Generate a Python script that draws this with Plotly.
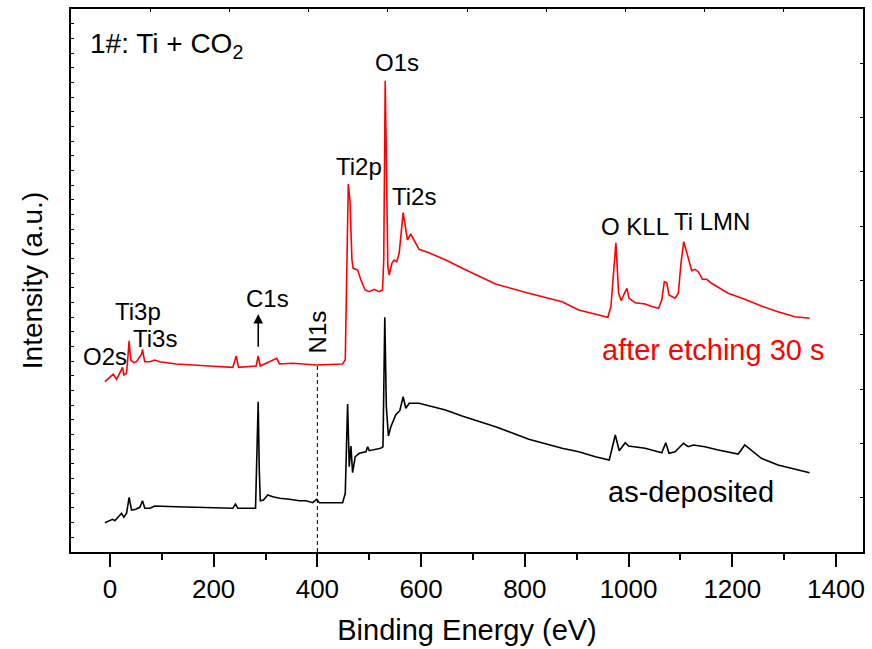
import plotly.graph_objects as go

# ---------------- data ----------------
energy_etched = [-9.6, 6.3, 12.9, 24.4, 26.9, 32.1, 35.5, 37.1, 38.8, 40.4, 46.2, 51.3, 61.2, 62.9, 64.6, 67.3, 76.9, 86.5, 96,
                 128, 192, 237, 243.6, 248, 282, 285.9, 289.8, 321.7, 327, 352.5, 397.5, 448.7, 453.8,
                 456.3, 459.6, 462.8, 466.7, 469, 477.6, 484, 492, 500, 509.6, 519, 525.6, 528, 530.8,
                 535.9, 538.5, 543.6, 548, 553, 557.7, 565.4, 569, 573.7, 580, 586.5, 596, 615, 647.5,
                 679.5, 743.6, 807.7, 871.8, 904, 960, 966, 975.6, 980.8, 985.9, 992, 996.8, 1001,
                 1012.8, 1032, 1041.6, 1057.7, 1064, 1069, 1073.7, 1078, 1089.7, 1096, 1101, 1106.4,
                 1112, 1121.8, 1128, 1134.6, 1142.3, 1150.6, 1160, 1192, 1224, 1256, 1288, 1320.5, 1349]
intensity_etched = [170.3, 177.7, 172.7, 184.7, 177, 178.7, 200, 211.3, 200, 192, 189.3, 190.3, 198, 202.7, 197, 190.3, 190.3,
                    192, 190.3, 188, 186, 184.7, 196, 184.7, 186, 196, 186, 193.7, 188, 188.7, 187, 188,
                    192, 272, 368, 352, 292, 283.7, 282, 272, 262, 260.3, 262.7, 260.3, 262, 292, 471.3,
                    285.3, 277, 288.7, 292, 290.3, 298.7, 339.3, 325.3, 312, 318, 312, 302.7, 299.3, 292,
                    283.7, 268, 258.7, 250.3, 242, 234.7, 245.3, 309.3, 258.7, 251.3, 258.7, 263.7, 253.7,
                    249.3, 248, 246, 243.7, 252, 270.3, 269.3, 257, 253.7, 258.7, 288.7, 310.3, 300.3,
                    281.3, 282.7, 280.3, 272.7, 272.7, 268.7, 258.7, 252.7, 246, 240.3, 235.3, 233.7]

energy_deposited = [-9.6, 5.1, 9.6, 16, 22.4, 27, 32.1, 37.1, 41.7, 50, 57.7, 62.8, 67.3, 76.9, 86.5, 128,
                    192, 237, 242, 246.8, 280.8, 285.9, 288, 290, 296, 304.5, 314, 327, 346, 365, 378,
                    391, 398.7, 404, 448.7, 453.8, 458.3, 461.5, 464.7, 467.9, 473, 480.8, 493.6, 497,
                    500, 522, 526.5, 530, 533, 537, 541.7, 551, 558.9, 565.4, 570.5, 577, 596, 615, 647,
                    679, 743.6, 807.7, 871.8, 904, 936, 962.8, 974.4, 982, 993.6, 1000, 1032, 1064,
                    1071.8, 1078, 1089.7, 1105.8, 1115, 1125, 1147, 1173, 1211.5, 1224, 1234, 1256, 1288,
                    1320.5, 1349]
intensity_deposited = [29.3, 32.7, 31.3, 34.7, 38.7, 34.7, 38.7, 54.7, 42, 42.7, 44.7, 51.3, 43.7, 43.7,
                       46, 45.3, 44.7, 43.7, 48, 43.7, 43.7, 150.3, 82, 51.3, 52, 57, 55.3, 53.7, 52.7,
                       51.3, 51.3, 49.3, 52.7, 49.3, 49.3, 58.7, 148, 85.3, 106, 79.3, 95.3, 98.7, 100.3,
                       105.3, 101.3, 103.7, 105.3, 234.7, 145.3, 116, 125.3, 137, 141.3, 155.3, 143.7,
                       148.7, 148.7, 146, 142, 136, 125.3, 112.7, 103.7, 100.3, 95.3, 92, 117, 101.3,
                       109.3, 106, 103.7, 99.3, 109.3, 98.7, 100.3, 108.7, 105.3, 107, 105.3, 102, 98,
                       107, 102.7, 93.7, 87, 82.7, 79.3]

n1s_energy = [400, 400]
n1s_marker = [0, 187]

x_tick_vals = [0, 200, 400, 600, 800, 1000, 1200, 1400]
x_tick_text = ["0", "200", "400", "600", "800", "1000", "1200", "1400"]
x_minor_vals = [100, 300, 500, 700, 900, 1100, 1300]

FONT = "Liberation Sans, Arial, sans-serif"
x_range = [-75, 1452]
y_range = [0, 543]

fig = go.Figure()
fig.add_trace(go.Scatter(x=energy_deposited, y=intensity_deposited, mode="lines",
                         line=dict(color="black", width=1.6), showlegend=False, name="as-deposited"))
fig.add_trace(go.Scatter(x=energy_etched, y=intensity_etched, mode="lines",
                         line=dict(color="#ff0000", width=1.6), showlegend=False, name="after etching 30 s"))
fig.add_trace(go.Scatter(x=n1s_energy, y=n1s_marker, mode="lines",
                         line=dict(color="black", width=1, dash="4px,3px"), showlegend=False))
# invisible trace to anchor the secondary (top/right) tick axes
fig.add_trace(go.Scatter(x=[None], y=[None], xaxis="x2", yaxis="y2", showlegend=False, hoverinfo="skip"))

fig.update_layout(
    width=872, height=649,
    margin=dict(l=71, r=7, t=9, b=97),
    plot_bgcolor="white", paper_bgcolor="white",
    font=dict(family=FONT, color="black"),
    xaxis=dict(range=x_range, tickvals=x_tick_vals, ticktext=x_tick_text,
               ticks="outside", ticklen=13, tickwidth=2, tickcolor="black",
               minor=dict(tickvals=x_minor_vals, ticks="outside",
                          ticklen=6, tickwidth=2, tickcolor="black"),
               showline=True, linewidth=2, linecolor="black", mirror=True,
               showgrid=False, zeroline=False,
               tickfont=dict(size=26, family=FONT),
               title=dict(text="Binding Energy (eV)", font=dict(size=29, family=FONT), standoff=16)),
    yaxis=dict(range=y_range, showticklabels=False, ticks="inside", ticklen=3, tickwidth=1.2,
               tickcolor="black", tick0=0, dtick=543 / 37,
               showline=True, linewidth=2, linecolor="black", mirror=True,
               showgrid=False, zeroline=False,
               title=dict(text="Intensity (a.u.)", font=dict(size=28, family=FONT), standoff=18)),
    xaxis2=dict(overlaying="x", side="top", range=x_range, tick0=-75, dtick=(1452 + 75) / 10,
                ticks="inside", ticklen=3, tickwidth=1.2, tickcolor="black",
                showticklabels=False, showgrid=False, zeroline=False, showline=False),
    yaxis2=dict(overlaying="y", side="right", range=y_range, tick0=0, dtick=54.3,
                ticks="inside", ticklen=3, tickwidth=1.2, tickcolor="black",
                showticklabels=False, showgrid=False, zeroline=False, showline=False),
)

peak_font = dict(size=24, family=FONT, color="black")
labels = [
    ("O2s", -9.6, 195.3), ("Ti3p", 54.4, 240.3), ("Ti3s", 86.5, 214), ("C1s", 304.4, 253.7),
    ("Ti2p", 480.8, 386), ("O1s", 553.8, 490), ("Ti2s", 586.5, 355.3),
    ("O KLL", 1012.9, 325.3), ("Ti LMN", 1160.2, 330.3),
]
for txt, xx, yy in labels:
    fig.add_annotation(x=xx, y=yy, text=txt, showarrow=False, font=peak_font,
                       xanchor="center", yanchor="middle")

fig.add_annotation(x=400.6, y=220.3, text="N1s", showarrow=False, textangle=-90, font=peak_font)
fig.add_annotation(x=286, y=238, ax=286, ay=203.7, axref="x", ayref="y", text="",
                   showarrow=True, arrowhead=2, arrowsize=1.2, arrowwidth=1.6, arrowcolor="black")
fig.add_annotation(x=-42.3, y=507, text="1#: Ti + CO<sub>2</sub>", showarrow=False,
                   xanchor="left", yanchor="middle", font=dict(size=28, family=FONT, color="black"))
fig.add_annotation(x=1162, y=202, text="after etching 30 s", showarrow=False,
                   font=dict(size=29, family=FONT, color="#ff0000"))
fig.add_annotation(x=1120.6, y=60.3, text="as-deposited", showarrow=False,
                   font=dict(size=29, family=FONT, color="black"))

fig.write_html("out.html")
